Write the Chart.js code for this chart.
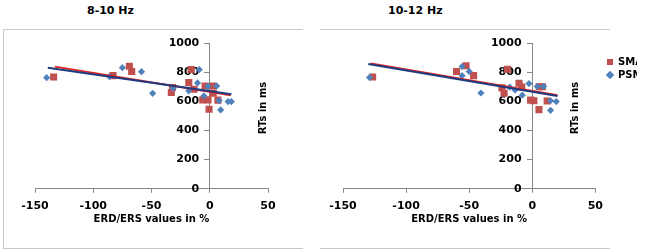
<!DOCTYPE html>
<html>
<head>
<meta charset="utf-8">
<script src="https://cdn.jsdelivr.net/npm/chart.js@4"></script>
<style>
  body { margin: 0; background: #fff; }
  #wrap { position: relative; width: 670px; height: 252px; overflow: hidden; }
  .frame { position: absolute; top: 29px; height: 218px; border-top: 1px solid #c8c8c8; border-bottom: 1px solid #c8c8c8; }
  .ttl { position: absolute; top: 4px; font: bold 11px "DejaVu Sans"; line-height: 14px; color: #000; }
  canvas { position: absolute; top: 0; }
</style>
</head>
<body>
<div id="wrap">
  <div class="frame" style="left:3px;width:299px;border-left:1px solid #c8c8c8"></div>
  <div class="frame" style="left:320px;width:290px"></div>
  <div class="ttl" style="left:87px">8-10 Hz</div>
  <div class="ttl" style="left:388px">10-12 Hz</div>
  <canvas id="c1" width="320" height="252" style="left:0"></canvas>
  <canvas id="c2" width="290" height="252" style="left:320px"></canvas>
  <canvas id="lg" width="66" height="40" style="left:604px;top:54px"></canvas>
</div>
<script>
// values
const seriesNames = ['SMA', 'PSM Left'];
const seriesColors = ['#c0504d', '#4f81bd'];
const seriesShapes = ['rect', 'rectRot'];
const xTicks = [-150, -100, -50, 0, 50];
const yTicks = [0, 200, 400, 600, 800, 1000];

// 8-10 Hz
const sma810X = [-134, -83, -69, -67, -32, -33, -16, -18, -13.5, -4, 3, -6, -1.5, -0.6, 3, 7];
const sma810Y = [767, 776, 840, 805, 695, 660, 818, 728, 683, 705, 705, 610, 610, 546, 655, 608];
const psm810X = [-140, -86, -75, -58.6, -49, -31.5, -18, -10.5, -9, -5, -1.5, 6, 8, 9.4, 15.7, 18.5];
const psm810Y = [762, 770, 831, 803, 655, 690, 672, 726, 818, 637, 703, 705, 605, 541, 598, 598];
const smaTrend810X = [-133, 18];
const smaTrend810Y = [838, 642];
const psmTrend810X = [-139, 18.6];
const psmTrend810Y = [831, 648];

// 10-12 Hz
const sma1012X = [-126.5, -60, -52.5, -46.5, -24, -22.3, -19.7, -10.5, -8.3, -1.3, 1.3, 5.5, 8, 5.3, 11.8];
const sma1012Y = [767, 805, 844, 776, 692, 655, 820, 724, 698, 608, 604, 700, 700, 543, 602];
const psm1012X = [-129, -55.6, -55.6, -50, -40.7, -17.8, -13.6, -7.9, -2.6, 4, 9, 14.5, 14.5, 19];
const psm1012Y = [764, 838, 776, 805, 657, 697, 678, 642, 722, 702, 702, 604, 538, 598];
const smaTrend1012X = [-128, 20];
const smaTrend1012Y = [860, 641];
const psmTrend1012X = [-130, 20];
const psmTrend1012Y = [856, 637];

const pts = (xs, ys) => xs.map((x, i) => ({ x: x, y: ys[i] }));
const font = size => ({ family: 'DejaVu Sans', weight: 'bold', size: size });

const yTitle = {
  id: 'ytitle',
  afterDraw(chart, args, opts) {
    const ctx = chart.ctx;
    ctx.save();
    ctx.translate(opts.x, opts.y);
    ctx.rotate(-Math.PI / 2);
    ctx.font = 'bold 10px "DejaVu Sans"';
    ctx.fillStyle = '#000';
    ctx.textAlign = 'center';
    ctx.textBaseline = 'middle';
    ctx.fillText(opts.text, 0, 0);
    ctx.restore();
  }
};

// labelAt: where (in x units) the y tick labels sit, a little left of the axis crossing at 0
function makeChart(id, smaX, smaY, psmX, psmY, tSmaX, tSmaY, tPsmX, tPsmY, pad, titleX, labelAt) {
  const yBuild = s => { s.ticks = yTicks.map(v => ({ value: v })); };
  return new Chart(document.getElementById(id), {
    type: 'scatter',
    data: {
      datasets: [
        { label: seriesNames[0], data: pts(smaX, smaY), pointStyle: seriesShapes[0], pointRadius: 5, pointHoverRadius: 5,
          backgroundColor: seriesColors[0], borderColor: seriesColors[0], borderWidth: 0, order: 3 },
        { label: seriesNames[1], data: pts(psmX, psmY), pointStyle: seriesShapes[1], pointRadius: 3.6, pointHoverRadius: 3.6,
          backgroundColor: seriesColors[1], borderColor: seriesColors[1], borderWidth: 0, order: 2 },
        { label: 'trend SMA', data: pts(tSmaX, tSmaY), showLine: true, pointRadius: 0, borderColor: '#e02424',
          borderWidth: 2, order: 1 },
        { label: 'trend PSM', data: pts(tPsmX, tPsmY), showLine: true, pointRadius: 0, borderColor: '#1f3b7f',
          borderWidth: 2, order: 0 }
      ]
    },
    options: {
      responsive: false,
      animation: false,
      layout: { padding: pad },
      scales: {
        x: {
          type: 'linear', position: 'bottom', min: -150, max: 50,
          afterBuildTicks: s => { s.ticks = xTicks.map(v => ({ value: v })); },
          grid: { display: true, drawOnChartArea: false, drawTicks: true, tickLength: 4, color: '#868686' },
          border: { display: true, color: '#868686' },
          ticks: { color: '#000', font: font(11), padding: 7, maxRotation: 0, callback: v => String(v) },
          title: { display: true, text: 'ERD/ERS values in %', color: '#000', font: font(10), padding: { top: -7, bottom: 0 } }
        },
        y: {
          type: 'linear', axis: 'y', position: { x: 0 }, min: 0, max: 1000,
          afterBuildTicks: yBuild,
          grid: { display: true, drawOnChartArea: false, drawTicks: true, tickLength: 5, color: '#868686' },
          border: { display: true, color: '#868686' },
          ticks: { display: false }
        },
        yLab: {
          type: 'linear', axis: 'y', position: { x: labelAt }, min: 0, max: 1000,
          afterBuildTicks: yBuild,
          grid: { display: false }, border: { display: false },
          ticks: { color: '#000', font: font(11), callback: v => String(v) }
        }
      },
      plugins: {
        tooltip: { enabled: false },
        legend: { display: false },
        ytitle: { text: 'RTs in ms', x: titleX, y: 108 }
      }
    },
    plugins: [yTitle]
  });
}

makeChart('c1', sma810X, sma810Y, psm810X, psm810Y, smaTrend810X, smaTrend810Y, psmTrend810X, psmTrend810Y,
  { left: 35, right: 52, top: 43, bottom: 27 }, 263, -9);
makeChart('c2', sma1012X, sma1012Y, psm1012X, psm1012Y, smaTrend1012X, smaTrend1012Y, psmTrend1012X, psmTrend1012Y,
  { left: 23, right: 13, top: 43, bottom: 27 }, 255, -8.5);

// legend of the 10-12 Hz panel, drawn by Chart.js on its own small canvas
new Chart(document.getElementById('lg'), {
  type: 'scatter',
  data: {
    datasets: seriesNames.map((name, i) => ({
      label: name, data: [], pointStyle: seriesShapes[i], backgroundColor: seriesColors[i], borderColor: seriesColors[i], borderWidth: 0
    }))
  },
  options: {
    responsive: false,
    animation: false,
    layout: { padding: 0 },
    scales: { x: { display: false }, y: { display: false } },
    plugins: {
      tooltip: { enabled: false },
      legend: {
        position: 'left', align: 'start',
        labels: { usePointStyle: true, boxWidth: 6, boxHeight: 6, padding: 3, color: '#000', font: font(10) }
      }
    }
  }
});
</script>
</body>
</html>
